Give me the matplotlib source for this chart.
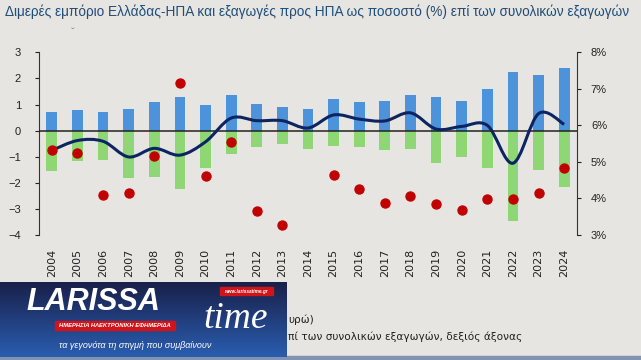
import numpy as np
import matplotlib.pyplot as plt
from matplotlib.path import Path
from matplotlib.patches import PathPatch, Rectangle
from matplotlib.colors import LinearSegmentedColormap

plt.rcParams['font.family'] = ['Liberation Sans', 'DejaVu Sans']

years = [str(y) for y in range(2004, 2025)]
# billion euro, left axis
exports_us = [0.71, 0.78, 0.70, 0.82, 1.10, 1.29, 0.98, 1.35, 1.02, 0.89, 0.82,
              1.20, 1.08, 1.12, 1.38, 1.30, 1.15, 1.61, 2.23, 2.13, 2.41]
imports_us = [-1.55, -1.16, -1.11, -1.83, -1.79, -2.24, -1.42, -0.88, -0.63, -0.51, -0.72,
              -0.60, -0.64, -0.74, -0.69, -1.24, -1.00, -1.44, -3.47, -1.52, -2.18]
balance = [-0.76, -0.38, -0.41, -1.01, -0.68, -0.94, -0.43, 0.48, 0.38, 0.38, 0.10,
           0.60, 0.44, 0.37, 0.68, 0.06, 0.16, 0.20, -1.25, 0.65, 0.24]
# % of total exports, right axis (no value shown for 2014)
share_pct = [5.32, 5.25, 4.09, 4.14, 5.16, 7.15, 4.61, 5.55, 3.66, 3.26, np.nan,
             4.64, 4.27, 3.88, 4.08, 3.85, 3.69, 3.98, 3.99, 4.14, 4.83]

BG = '#e6e5e1'
W, H = 641, 360

fig = plt.figure(figsize=(W / 100, H / 100), dpi=100, facecolor=BG)


def px(x, y):
    return x / W, 1 - y / H


ax = fig.add_axes([39 / W, 1 - 235 / H, (577 - 39) / W, (235 - 52.3) / H])
ax.set_facecolor('none')
x = np.arange(len(years))

ax.bar(x, exports_us, width=0.42, color='#4d93dc', zorder=2)
ax.bar(x, imports_us, width=0.42, color='#8fd774', zorder=2)
ax.axhline(0, color='#222222', lw=1.1, zorder=3)

# smoothed balance line (Excel style bezier)
pts = np.column_stack([x, balance]).astype(float)
verts = [tuple(pts[0])]
codes = [Path.MOVETO]
for i in range(len(pts) - 1):
    p0 = pts[i - 1] if i > 0 else pts[i]
    p1, p2 = pts[i], pts[i + 1]
    p3 = pts[i + 2] if i + 2 < len(pts) else pts[i + 1]
    c1 = p1 + (p2 - p0) / 6
    c2 = p2 - (p3 - p1) / 6
    verts += [tuple(c1), tuple(c2), tuple(p2)]
    codes += [Path.CURVE4] * 3
ax.add_patch(PathPatch(Path(verts, codes), fc='none', ec='#0c2461', lw=2.2, zorder=4))

ax.set_xlim(-0.5, len(years) - 0.5)
ax.set_ylim(-4, 3)
ax.set_yticks(range(-4, 4))
ax.set_xticks(x)
ax.set_xticklabels(years, rotation=90, fontsize=8, color='#222222', family='DejaVu Sans')
ax.tick_params(axis='x', length=0, pad=10)
ax.tick_params(axis='y', labelsize=8, colors='#222222', length=3, direction='out', pad=10)
for s in ['top', 'right', 'bottom']:
    ax.spines[s].set_visible(False)
ax.spines['left'].set_color('#333333')

ax2 = ax.twinx()
ax2.scatter(x, share_pct, s=42, color='#c00000', zorder=5)
ax2.set_ylim(3, 8)
ax2.set_yticks(range(3, 9))
ax2.set_yticklabels([f'{v}%' for v in range(3, 9)])
ax2.tick_params(axis='y', labelsize=8, colors='#222222', length=3, direction='out', pad=7)
for s in ['top', 'left', 'bottom']:
    ax2.spines[s].set_visible(False)
ax2.spines['right'].set_color('#333333')

fig.text(*px(5, 12), 'Διμερές εμπόριο Ελλάδας-ΗΠΑ και εξαγωγές προς ΗΠΑ ως ποσοστό (%) επί των συνολικών εξαγωγών',
         fontsize=9.85, color='#1f4e79', va='center', ha='left')
fig.text(*px(73, 33), 'ˇ', fontsize=8, color='#888888', ha='center', va='center')

# visible ends of the legend entries (the rest is hidden by the logo)
fig.text(*px(288, 320), 'υρώ)', fontsize=7.6, color='#222222', ha='left', va='center',
         family='DejaVu Sans')
fig.text(*px(288, 337), 'πί των συνολικών εξαγωγών, δεξιός άξονας', fontsize=7.6, color='#222222',
         ha='left', va='center', family='DejaVu Sans')

# bottom strip
fig.patches.append(Rectangle(px(0, 360), 1, 4 / H, transform=fig.transFigure,
                             color='#8193b0', zorder=5))

# logo
lx0, ly0 = px(0, 357)
logo = fig.add_axes([lx0, ly0, 287 / W, 75 / H], zorder=10)
grad = np.linspace(0, 1, 100).reshape(-1, 1)
logo.imshow(grad, extent=[0, 287, 0, 75], aspect='auto', origin='upper',
            cmap=LinearSegmentedColormap.from_list('g', ['#19204a', '#2a5db0']))
logo.set_xlim(0, 287)
logo.set_ylim(0, 75)
logo.axis('off')
logo.text(26, 55, 'LARISSA', fontsize=22, fontweight='bold', style='italic', color='white',
          ha='left', va='center')
logo.text(203, 38, 'time', fontsize=27, style='italic', color='white', ha='left', va='center',
          family='Liberation Serif')
logo.add_patch(Rectangle((220, 62), 53, 8, color='#d0141a'))
logo.text(246.5, 66, 'www.larissatime.gr', fontsize=3.4, color='white', ha='center', va='center',
          fontweight='bold', style='italic')
logo.add_patch(Rectangle((55, 27), 120, 9, color='#d0141a'))
logo.text(115, 31.5, 'ΗΜΕΡΗΣΙΑ ΗΛΕΚΤΡΟΝΙΚΗ ΕΦΗΜΕΡΙΔΑ', fontsize=4.2, color='white', ha='center', va='center',
          fontweight='bold', style='italic')
logo.text(135, 11, 'τα γεγονότα τη στιγμή που συμβαίνουν', fontsize=6.5, color='white', ha='center', va='center',
          style='italic')

fig.savefig('out.png', dpi=100, facecolor=BG)
